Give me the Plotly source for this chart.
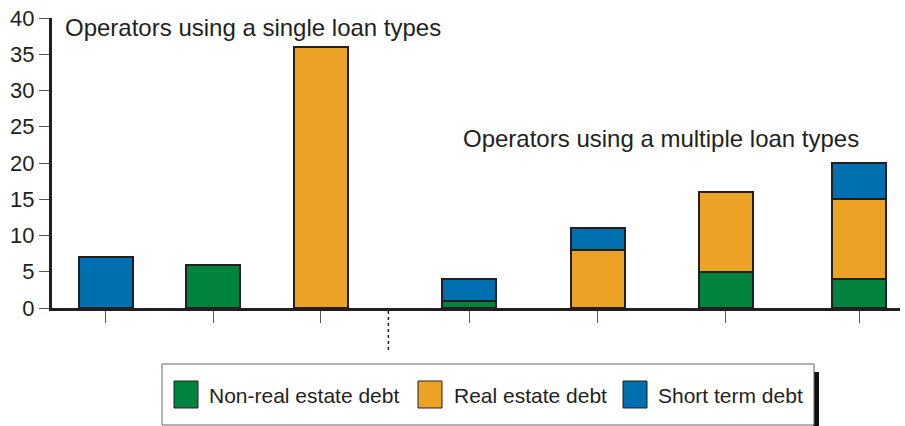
import plotly.graph_objects as go

# Debt by loan type for operators, grouped by single vs. multiple loan types
groups = ["Short term", "Non-real estate", "Real estate",
          "Multi A", "Multi B", "Multi C", "Multi D"]
non_real_estate = [None, 6, None, 1, None, 5, 4]
real_estate = [None, None, 36, None, 8, 11, 11]
short_term = [7, None, None, 3, 3, None, 5]
y_ticks = [0, 5, 10, 15, 20, 25, 30, 35, 40]

series_names = ["Non-real estate debt", "Real estate debt", "Short term debt"]
series_colors = ["#00843d", "#eca325", "#006fb0"]

# horizontal placement of each bar (single group, then multiple group)
bar_pos = [0, 1, 2, 3.38, 4.58, 5.77, 7.01]
divider_pos = 2.63

W, H = 905, 426
L, R, T, B = 52, 5, 18, 118
PW, PH = W - L - R, H - T - B


def px(xp):
    return (xp - L) / PW


def py(yp):
    return (H - B - yp) / PH


FONT = "Liberation Sans, Arial, Helvetica, sans-serif"
INK = "#231f20"

fig = go.Figure()
for name, vals, col in zip(series_names, [non_real_estate, real_estate, short_term], series_colors):
    fig.add_trace(go.Bar(
        x=bar_pos, y=vals, name=name, width=0.5,
        marker=dict(color=col, line=dict(color=INK, width=2)),
        showlegend=False, hovertext=groups,
    ))

fig.update_layout(
    width=W, height=H, barmode="stack",
    margin=dict(l=L, r=R, t=T, b=B, pad=0),
    paper_bgcolor="white", plot_bgcolor="white",
    font=dict(family=FONT, color=INK, size=22),
    xaxis=dict(range=[-0.5, 7.39], tickvals=bar_pos, ticktext=[""] * len(bar_pos),
               ticks="outside", ticklen=12, tickwidth=1.2, tickcolor="#555555",
               showline=True, linecolor=INK, linewidth=3, showgrid=False, zeroline=False),
    yaxis=dict(range=[0, 40], tickvals=y_ticks, ticks="outside", ticklen=10,
               tickwidth=1.2, tickcolor="#555555", showline=True, linecolor=INK,
               linewidth=3, showgrid=False, zeroline=False,
               tickfont=dict(size=22, color=INK)),
)

# dotted separator between the two groups
fig.add_shape(type="line", xref="x", yref="paper", x0=divider_pos, x1=divider_pos,
              y0=py(311), y1=py(352), line=dict(color=INK, width=1.5, dash="dot"))

fig.add_annotation(text="Operators using a single loan types", xref="paper", yref="paper",
                   x=px(63), y=py(28), xanchor="left", yanchor="middle", showarrow=False,
                   font=dict(size=24, color=INK))
fig.add_annotation(text="Operators using a multiple loan types", xref="paper", yref="paper",
                   x=px(461), y=py(138), xanchor="left", yanchor="middle", showarrow=False,
                   font=dict(size=24, color=INK))

# legend box with drop shadow on the right
fig.add_shape(type="rect", xref="paper", yref="paper", x0=px(813), x1=px(819),
              y0=py(426), y1=py(372), fillcolor="#111111", line=dict(width=0))
fig.add_shape(type="rect", xref="paper", yref="paper", x0=px(162), x1=px(814),
              y0=py(425), y1=py(364), fillcolor="white", line=dict(color="#666666", width=1))

swatch_x = [174, 418, 623]
label_x = [207, 452, 656]
for sx, lx, name, col in zip(swatch_x, label_x, series_names, series_colors):
    fig.add_shape(type="rect", xref="paper", yref="paper", x0=px(sx), x1=px(sx + 24),
                  y0=py(408), y1=py(381), fillcolor=col, line=dict(color=INK, width=1))
    fig.add_annotation(text=name, xref="paper", yref="paper", x=px(lx), y=py(395),
                       xanchor="left", yanchor="middle", showarrow=False,
                       font=dict(size=21, color=INK))

fig.write_html("out.html")
